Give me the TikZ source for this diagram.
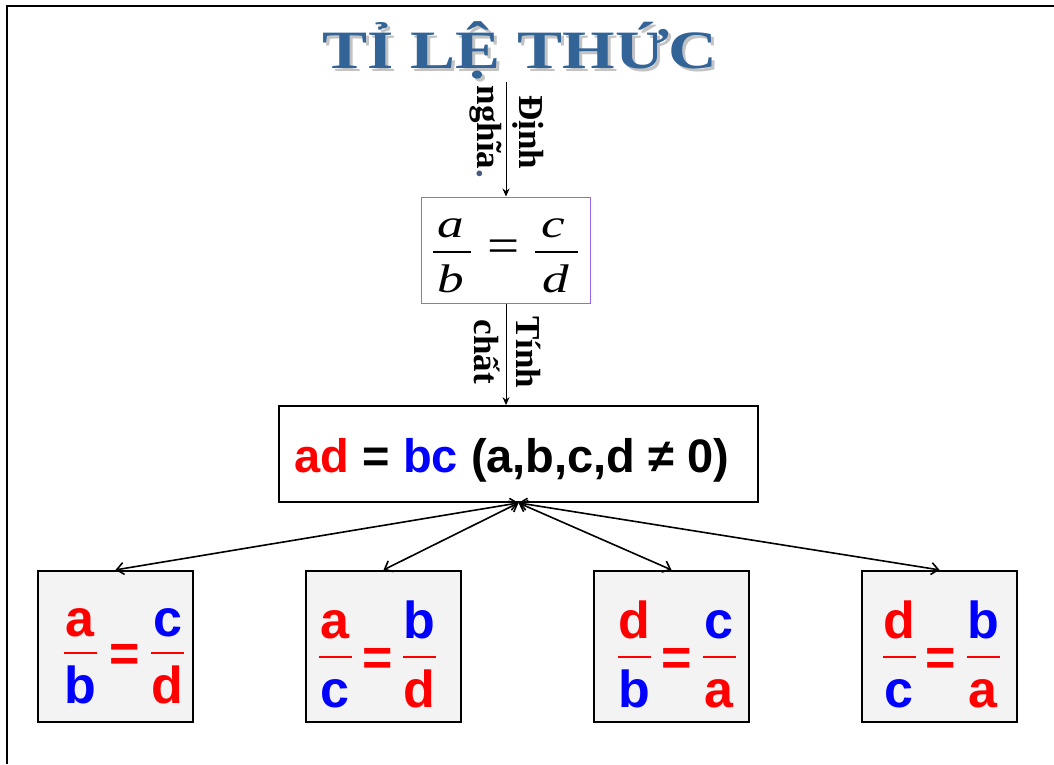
\documentclass[tikz,border=0pt]{standalone}
\usepackage{fontspec}
\setmainfont{Liberation Serif}
\newfontfamily\arialf{Liberation Sans}
\usetikzlibrary{arrows.meta}
\definecolor{titleblue}{RGB}{50,100,152}
\definecolor{shadowgray}{RGB}{195,195,195}
\definecolor{boxpurple}{RGB}{160,100,230}
\definecolor{boxgray}{RGB}{243,243,243}
\definecolor{dotblue}{RGB}{70,90,130}
\definecolor{myred}{RGB}{255,0,0}
\definecolor{myblue}{RGB}{0,0,255}
\newcommand\titletext{\scalebox{1.25}[1]{TỈ LỆ THỨC}}
\begin{document}
\begin{tikzpicture}[x=1pt,y=-1pt,
  titlefont/.style={inner sep=0pt, anchor=base, font=\fontsize{54}{60}\selectfont\bfseries},
  lbl/.style={inner sep=0pt, rotate=-90, align=center, font=\fontsize{35}{42}\selectfont\bfseries},
  vline/.style={-{Stealth[length=8pt,width=7pt]}, line width=0.9pt},
  link/.style={{Straight Barb[length=7pt,width=12pt]}-{Straight Barb[length=7pt,width=12pt]}, line width=1.6pt},
  defbox/.style={draw=boxpurple, line width=1pt, minimum width=169pt, minimum height=106pt, inner sep=0pt},
  propbox/.style={draw=black, line width=1.8pt, minimum width=479pt, minimum height=96pt, inner sep=0pt},
  fracbox/.style={draw=black, fill=boxgray, line width=2.2pt, minimum width=155pt, minimum height=151pt, inner sep=0pt},
  tletter/.style={inner sep=0pt, anchor=base, font=\fontsize{38}{42}\selectfont\itshape},
  teq/.style={inner sep=0pt, anchor=base, font=\fontsize{38}{42}\selectfont},
  sletter/.style={inner sep=0pt, anchor=base, font=\fontsize{52}{56}\selectfont\arialf\bfseries},
  tbar/.style={line width=1.3pt, black},
  sbar/.style={line width=1.6pt, myred},
  proptxt/.style={inner sep=0pt, anchor=base, font=\fontsize{47}{50}\selectfont\arialf\bfseries}
]
\useasboundingbox (0,0) rectangle (1054,764);
% frame lines
\draw[line width=1.5pt] (7,764) -- (7,6) -- (1054,6);

% title with its shadow
\node[titlefont, text=titleblue] (title) at (520,68)
  {\makebox[0pt][l]{\hspace{3pt}\raisebox{-3pt}{\color{shadowgray}\titletext}}\titletext};

% definition box
\node[defbox] (def) at (505.5,250) {};
\node[tletter] (defa) at (451,237) {\scalebox{1.4}[1.05]{a}};
\node[tletter] (defb) at (451,292) {\scalebox{1.4}[1.05]{b}};
\draw[tbar] (433,252) -- (471,252);
\node[teq] (defeq) at (504,262) {\scalebox{1.5}[1.3]{=}};
\node[tletter] (defc) at (553,237) {\scalebox{1.4}[1.05]{c}};
\node[tletter] (defd) at (556,292) {\scalebox{1.4}[1.05]{d}};
\draw[tbar] (535,252) -- (578,252);

% property box
\node[propbox] (prop) at (518.5,454) {};
\node[proptxt] (proptext) at (512,472) {\textcolor{myred}{ad} = \textcolor{myblue}{bc} (a,b,c,d ≠ 0)};

% arrows and labels
\coordinate (start) at (506,82);
\draw[vline] (start) -- (start |- def.north);
\node[lbl] (lbldef) at (507,132) {Định\\nghĩa{\color{dotblue}.}};
\draw[vline] (start |- def.south) -- (start |- prop.north);
\node[lbl] (lblprop) at (507,352) {Tính\\chất};

% bottom boxes
\node[fracbox] (boxA) at (115.5,646.5) {};
\node[fracbox] (boxB) at (383.5,646.5) {};
\node[fracbox] (boxC) at (671.5,646.5) {};
\node[fracbox] (boxD) at (939.5,646.5) {};

% box A: a/b = c/d
\node[sletter, text=myred] (An1) at (80,636) {a};
\node[sletter, text=myblue] (Ad1) at (80,703) {b};
\draw[sbar] (63.5,653) -- (96.5,653);
\node[sletter, text=myred] (Aeq) at (125,671) {=};
\node[sletter, text=myblue] (An2) at (167.5,636) {c};
\node[sletter, text=myred] (Ad2) at (167.5,703) {d};
\draw[sbar] (151,653) -- (184,653);

% box B: a/c = b/d
\node[sletter, text=myred] (Bn1) at (335,638) {a};
\node[sletter, text=myblue] (Bd1) at (335,707) {c};
\draw[sbar] (318.5,657) -- (351.5,657);
\node[sletter, text=myred] (Beq) at (378,675) {=};
\node[sletter, text=myblue] (Bn2) at (419,638) {b};
\node[sletter, text=myred] (Bd2) at (419,707) {d};
\draw[sbar] (402.5,657) -- (435.5,657);

% box C: d/b = c/a
\node[sletter, text=myred] (Cn1) at (634.5,638) {d};
\node[sletter, text=myblue] (Cd1) at (634.5,707) {b};
\draw[sbar] (618,657) -- (651,657);
\node[sletter, text=myred] (Ceq) at (677,675) {=};
\node[sletter, text=myblue] (Cn2) at (719,638) {c};
\node[sletter, text=myred] (Cd2) at (719,707) {a};
\draw[sbar] (702.5,657) -- (735.5,657);

% box D: d/c = b/a
\node[sletter, text=myred] (Dn1) at (899,638) {d};
\node[sletter, text=myblue] (Dd1) at (899,707) {c};
\draw[sbar] (882.5,657) -- (915.5,657);
\node[sletter, text=myred] (Deq) at (941,675) {=};
\node[sletter, text=myblue] (Dn2) at (983,638) {b};
\node[sletter, text=myred] (Dd2) at (983,707) {a};
\draw[sbar] (966.5,657) -- (999.5,657);

% connectors
\draw[link] (prop.south) -- (boxA.north);
\draw[link] (prop.south) -- (boxB.north);
\draw[link] (prop.south) -- (boxC.north);
\draw[link] (prop.south) -- (boxD.north);
\end{tikzpicture}
\end{document}
